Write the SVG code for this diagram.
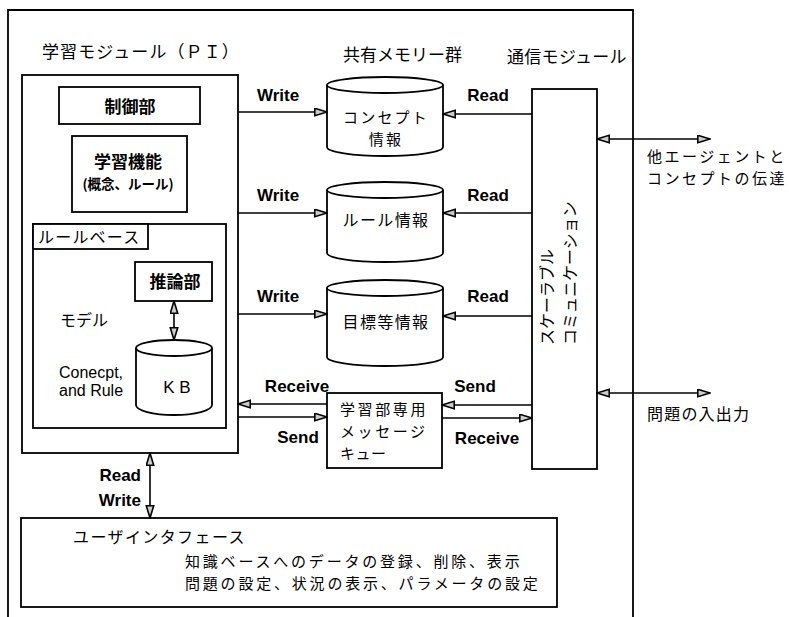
<svg xmlns="http://www.w3.org/2000/svg" width="789" height="617" viewBox="0 0 789 617">
<style>
.box{fill:#fff;stroke:#000;stroke-width:1.8}
.frame{fill:none;stroke:#000;stroke-width:1.8}
.ln{fill:none;stroke:#000;stroke-width:1.6}
.jp{font-family:"Noto Sans CJK JP","Noto Sans",sans-serif;font-size:16px;fill:#000}
.jpb{font-family:"Noto Sans CJK JP","Noto Sans",sans-serif;font-size:17px;font-weight:bold;fill:#000}
.en{font-family:"Liberation Sans",Arial,sans-serif;font-size:17px;font-weight:bold;fill:#000}
.enr{font-family:"Liberation Sans",Arial,sans-serif;font-size:16px;fill:#000}
</style>
<defs>
<marker id="ah" markerUnits="userSpaceOnUse" markerWidth="14" markerHeight="10" refX="13" refY="4.5" orient="auto-start-reverse">
<path d="M0.8,0.8 L13,4.5 L0.8,8.2 Z" fill="#ccc" stroke="#000" stroke-width="1.6"/>
</marker>
</defs>
<g id="frame">
<path class="frame" d="M8,617 V10 H633 V617"/>
<text class="jp" x="42" y="58" style="font-size:17px" letter-spacing="1.1">学習モジュール（ＰＩ）</text>
<text class="jp" x="343" y="61" style="font-size:17px">共有メモリー群</text>
<text class="jp" x="507" y="63" style="font-size:17px" letter-spacing="0.3">通信モジュール</text>
</g>
<g id="pi">
<rect class="box" x="22" y="75" width="216" height="378"/>
</g>
<g id="seigyo">
<rect class="box" x="59" y="87" width="141" height="37"/>
<text class="jpb" x="130" y="113" text-anchor="middle">制御部</text>
</g>
<g id="gakushu">
<rect class="box" x="72" y="136" width="115" height="76"/>
<text class="jpb" x="128" y="168" text-anchor="middle">学習機能</text>
<text class="jpb" x="128" y="189" text-anchor="middle" style="font-size:13.5px">(概念、ルール)</text>
</g>
<g id="rulebase">
<rect class="box" x="33" y="224" width="193" height="204"/>
<rect class="box" x="33" y="224" width="115" height="25"/>
<text class="jp" x="38" y="243" letter-spacing="1.2">ルールベース</text>
<text class="jp" x="60" y="326">モデル</text>
<text class="enr" x="59" y="378">Conecpt,</text>
<text class="enr" x="59" y="396">and Rule</text>
</g>
<g id="suiron">
<rect class="box" x="135" y="262" width="77" height="39"/>
<text class="jpb" x="175" y="288" text-anchor="middle">推論部</text>
</g>
<g id="kb">
<path class="box" d="M136,348 V405 A38,10 0 0 0 212,405 V348"/>
<ellipse class="box" cx="174" cy="348" rx="38" ry="8"/>
<text class="enr" x="177" y="393" text-anchor="middle" style="font-size:17px">K B</text>
</g>
<g id="concept">
<path class="box" d="M327,85 V147 A58,9 0 0 0 443,147 V85"/>
<ellipse class="box" cx="385" cy="85" rx="58" ry="8"/>
<text class="jp" x="386" y="123" text-anchor="middle" style="font-size:15px" letter-spacing="2.2">コンセプト</text>
<text class="jp" x="386" y="145" text-anchor="middle" style="font-size:15px" letter-spacing="2.2">情報</text>
</g>
<g id="rule">
<path class="box" d="M327,190 V253 A58,9 0 0 0 443,253 V190"/>
<ellipse class="box" cx="385" cy="190" rx="58" ry="8"/>
<text class="jp" x="386" y="226" text-anchor="middle" letter-spacing="1.4">ルール情報</text>
</g>
<g id="mokuhyo">
<path class="box" d="M327,288 V357 A58,9 0 0 0 443,357 V288"/>
<ellipse class="box" cx="385" cy="288" rx="58" ry="8"/>
<text class="jp" x="386" y="328" text-anchor="middle" letter-spacing="1.4">目標等情報</text>
</g>
<g id="queue">
<rect class="box" x="327" y="393" width="115" height="75"/>
<text class="jp" x="340" y="415" style="font-size:15px" letter-spacing="2.6">学習部専用</text>
<text class="jp" x="340" y="437" style="font-size:15px" letter-spacing="2.6">メッセージ</text>
<text class="jp" x="340" y="459" style="font-size:15px" letter-spacing="0.5">キュー</text>
</g>
<g id="comm">
<rect class="box" x="532" y="89" width="65" height="380"/>
<text class="jp" transform="translate(553,345) rotate(-90)">スケーラブル</text>
<text class="jp" transform="translate(576,345) rotate(-90)">コミュニケーション</text>
</g>
<g id="ui">
<rect class="box" x="21" y="518" width="536" height="89"/>
<text class="jp" x="73" y="543" letter-spacing="1.4">ユーザインタフェース</text>
<text class="jp" x="185" y="567" style="font-size:15px" letter-spacing="2.8">知識ベースへのデータの登録、削除、表示</text>
<text class="jp" x="185" y="589" style="font-size:15px" letter-spacing="2.8">問題の設定、状況の表示、パラメータの設定</text>
</g>
<g id="connectors">
<line class="ln" x1="238" y1="112" x2="327" y2="112" marker-end="url(#ah)"/>
<line class="ln" x1="238" y1="213" x2="327" y2="213" marker-end="url(#ah)"/>
<line class="ln" x1="238" y1="314" x2="327" y2="314" marker-end="url(#ah)"/>
<line class="ln" x1="532" y1="114" x2="443" y2="114" marker-end="url(#ah)"/>
<line class="ln" x1="532" y1="213" x2="443" y2="213" marker-end="url(#ah)"/>
<line class="ln" x1="532" y1="316" x2="443" y2="316" marker-end="url(#ah)"/>
<line class="ln" x1="327" y1="404" x2="238" y2="404" marker-end="url(#ah)"/>
<line class="ln" x1="238" y1="417" x2="327" y2="417" marker-end="url(#ah)"/>
<line class="ln" x1="532" y1="405" x2="442" y2="405" marker-end="url(#ah)"/>
<line class="ln" x1="442" y1="418" x2="532" y2="418" marker-end="url(#ah)"/>
<line class="ln" x1="174" y1="301" x2="174" y2="340" marker-start="url(#ah)" marker-end="url(#ah)"/>
<line class="ln" x1="150" y1="453" x2="150" y2="518" marker-start="url(#ah)" marker-end="url(#ah)"/>
<line class="ln" x1="597" y1="139" x2="710" y2="139" marker-start="url(#ah)" marker-end="url(#ah)"/>
<line class="ln" x1="597" y1="393" x2="710" y2="393" marker-start="url(#ah)" marker-end="url(#ah)"/>
<text class="en" x="278" y="101" text-anchor="middle">Write</text>
<text class="en" x="278" y="201" text-anchor="middle">Write</text>
<text class="en" x="278" y="302" text-anchor="middle">Write</text>
<text class="en" x="488" y="101" text-anchor="middle">Read</text>
<text class="en" x="488" y="201" text-anchor="middle">Read</text>
<text class="en" x="488" y="302" text-anchor="middle">Read</text>
<text class="en" x="297" y="392" text-anchor="middle">Receive</text>
<text class="en" x="298" y="443" text-anchor="middle">Send</text>
<text class="en" x="475" y="392" text-anchor="middle">Send</text>
<text class="en" x="487" y="444" text-anchor="middle">Receive</text>
<text class="en" x="141" y="481" text-anchor="end">Read</text>
<text class="en" x="141" y="506" text-anchor="end">Write</text>
<text class="jp" x="647" y="162" style="font-size:15px" letter-spacing="2.5">他エージェントと</text>
<text class="jp" x="647" y="184" style="font-size:15px" letter-spacing="2.5">コンセプトの伝達</text>
<text class="jp" x="647" y="420" letter-spacing="1.2">問題の入出力</text>
</g>
</svg>
